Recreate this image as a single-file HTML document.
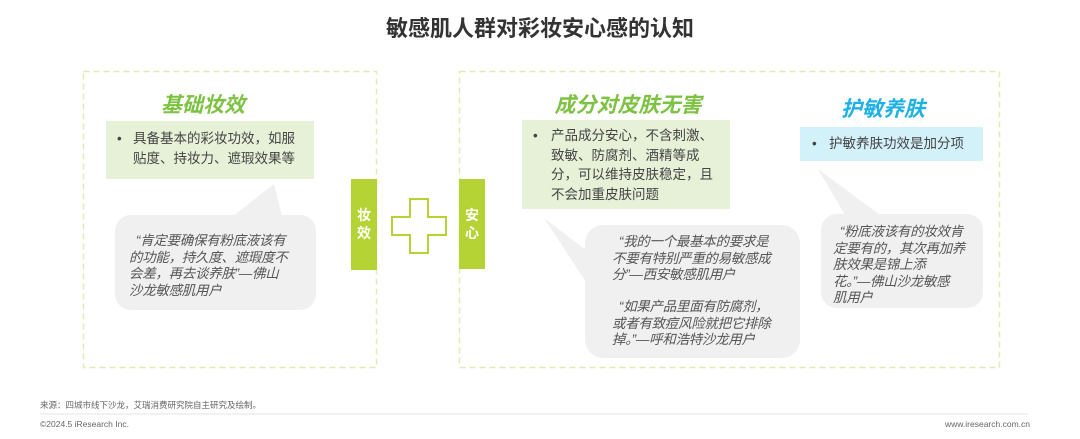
<!DOCTYPE html>
<html><head><meta charset="utf-8"><style>
*{margin:0;padding:0;box-sizing:border-box}
body{width:1080px;height:439px;background:#fff;position:relative;overflow:hidden;font-family:"Liberation Sans","Noto Sans CJK SC",sans-serif}
.a{position:absolute;white-space:nowrap}
.t{font-size:13.5px;color:#444;line-height:19.5px}
.q{font-style:italic;color:#555;font-size:13.5px;line-height:16.5px;letter-spacing:-0.3px}
.h{font-weight:bold;font-style:italic;font-size:21px;color:#7dc242}
</style></head><body>
<svg class="a" style="left:0;top:0" width="1080" height="439">
<rect x="83.5" y="71.5" width="293" height="296" fill="none" stroke="#e4eab4" stroke-width="1.5" stroke-dasharray="6,4"/>
<rect x="459.5" y="71.5" width="540" height="296" fill="none" stroke="#e4eab4" stroke-width="1.5" stroke-dasharray="6,4"/>
<rect x="106" y="121" width="208" height="58" fill="#e6f1d8"/>
<rect x="522" y="120" width="208" height="89" fill="#e6f1d8"/>
<rect x="800" y="127" width="183" height="34" fill="#d3f1f9"/>
<g fill="#f0f0f0">
<rect x="115" y="215" width="201" height="95" rx="16"/>
<polygon points="233,216 282,216 274,184"/>
<rect x="585" y="225" width="215" height="133" rx="18"/>
<polygon points="586,250 586,282 544,218"/>
<rect x="821" y="214" width="162" height="94" rx="16"/>
<polygon points="845,215 880,215 818,169"/>
</g>
<rect x="351" y="179" width="26" height="91" fill="#b5d335"/>
<rect x="459" y="179" width="26" height="90" fill="#b5d335"/>
<path d="M410,199 H428 V217 H446 V235 H428 V253 H410 V235 H392 V217 H410 Z" fill="#fff" stroke="#b5d335" stroke-width="2"/>
<line x1="40" y1="414" x2="1028" y2="414" stroke="#eee" stroke-width="1.5"/>
</svg>
<div class="a" style="left:0;width:1080px;top:11px;text-align:center;font-size:22px;font-weight:bold;color:#333">敏感肌人群对彩妆安心感的认知</div>
<div class="a h" style="left:150px;top:89px;width:106px;text-align:center">基础妆效</div>
<div class="a h" style="left:540px;top:89px;width:176px;text-align:center">成分对皮肤无害</div>
<div class="a h" style="left:830px;top:93px;width:106px;text-align:center;color:#1fb1e6">护敏养肤</div>
<div class="a t" style="left:117px;top:129px">•</div>
<div class="a t" style="left:133px;top:129px">具备基本的彩妆功效，如服<br>贴度、持妆力、遮瑕效果等</div>
<div class="a t" style="left:533px;top:126px">•</div>
<div class="a t" style="left:551px;top:126px">产品成分安心，不含刺激、<br>致敏、防腐剂、酒精等成<br>分，可以维持皮肤稳定，且<br>不会加重皮肤问题</div>
<div class="a t" style="left:812px;top:134px">•</div>
<div class="a t" style="left:829px;top:134px">护敏养肤功效是加分项</div>
<div class="a q" style="left:129px;top:233px">&nbsp;&nbsp;“肯定要确保有粉底液该有<br>的功能，持久度、遮瑕度不<br>会差，再去谈养肤”—佛山<br>沙龙敏感肌用户</div>
<div class="a q" style="left:612px;top:234px">&nbsp;&nbsp;“我的一个最基本的要求是<br>不要有特别严重的易敏感成<br>分”—西安敏感肌用户</div>
<div class="a q" style="left:612px;top:299px">&nbsp;&nbsp;“如果产品里面有防腐剂，<br>或者有致痘风险就把它排除<br>掉。”—呼和浩特沙龙用户</div>
<div class="a q" style="left:833px;top:224px">&nbsp;&nbsp;“粉底液该有的妆效肯<br>定要有的，其次再加养<br>肤效果是锦上添<br>花。”—佛山沙龙敏感<br>肌用户</div>
<div class="a" style="left:351px;top:206px;width:26px;text-align:center;color:#fff;font-weight:bold;font-size:14px;line-height:18px">妆<br>效</div>
<div class="a" style="left:459px;top:206px;width:26px;text-align:center;color:#fff;font-weight:bold;font-size:14px;line-height:18px">安<br>心</div>
<div class="a" style="left:40px;top:399px;font-size:8.5px;color:#666">来源：四城市线下沙龙，艾瑞消费研究院自主研究及绘制。</div>
<div class="a" style="left:40px;top:419px;font-size:8.5px;color:#666">©2024.5 iResearch Inc.</div>
<div class="a" style="right:50px;top:419px;font-size:8.5px;color:#666">www.iresearch.com.cn</div>
</body></html>
